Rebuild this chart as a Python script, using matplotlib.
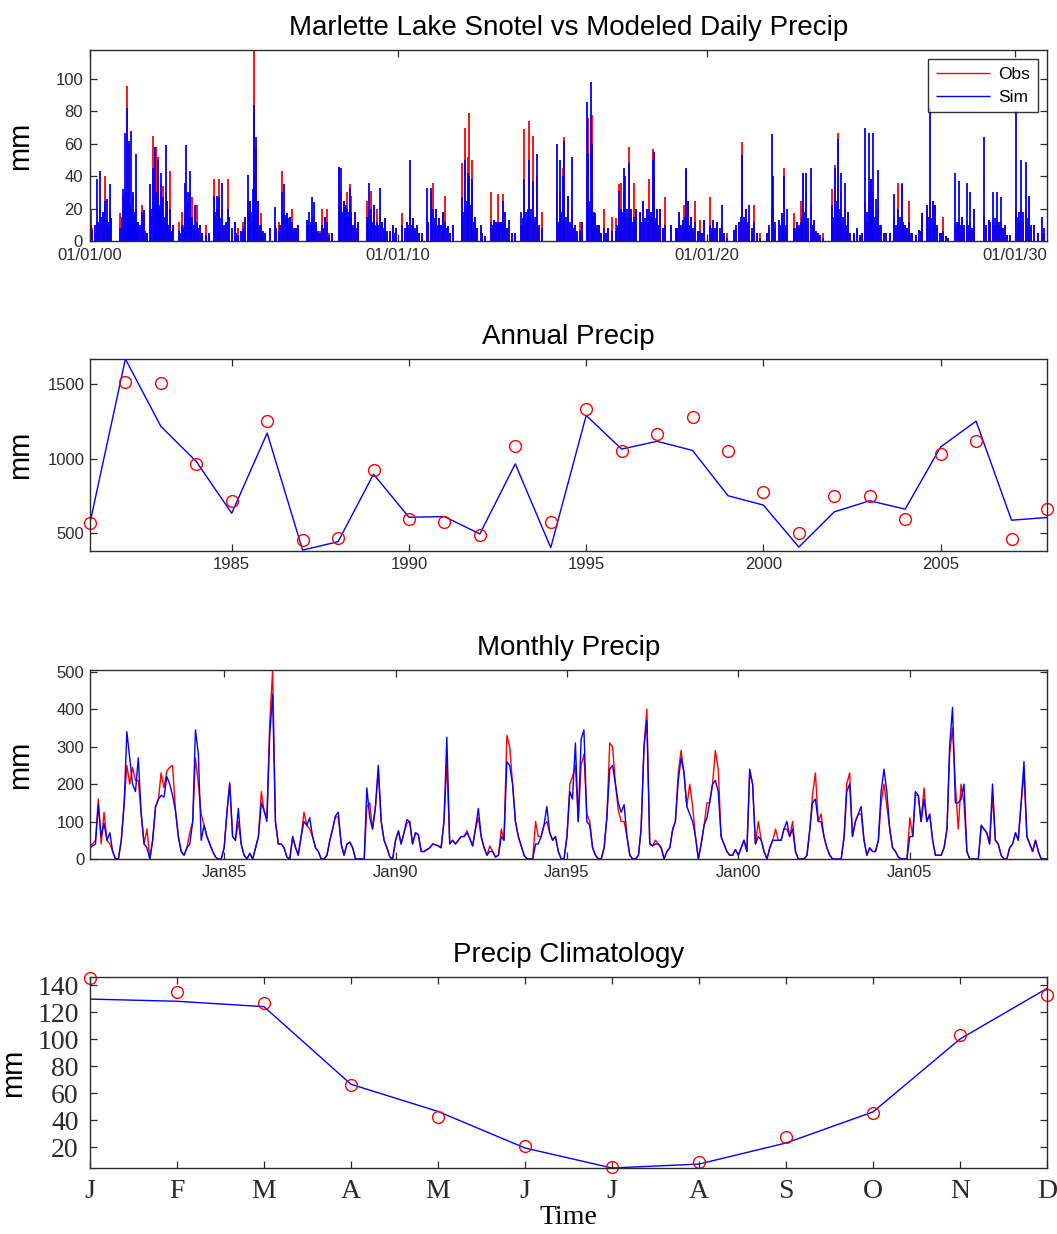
import matplotlib
matplotlib.use("Agg")
import matplotlib.pyplot as plt
import matplotlib.dates as mdates
import numpy as np
import pandas as pd

# ---- daily series: storm days (day of record), observed and simulated mm ----
storm_day = [8, 82, 122, 151, 184, 204, 232, 253, 359, 396, 416, 436, 457, 489, 510, 530, 551, 571,
             612, 636, 673, 714, 742, 767, 783, 803, 836, 865, 897, 918, 946, 979, 1052, 1093, 1121,
             1142, 1162, 1191, 1215, 1244, 1264, 1305, 1374, 1407, 1468, 1501, 1529, 1570, 1631, 1652,
             1713, 1754, 1815, 1835, 1868, 1896, 1929, 1949, 1966, 1990, 2031, 2080, 2129, 2190, 2235,
             2276, 2304, 2333, 2365, 2398, 2439, 2471, 2569, 2598, 2630, 2659, 2683, 2753, 2781, 2806,
             2863, 2957, 2977, 3005, 3030, 3050, 3079, 3099, 3140, 3181, 3283, 3311, 3336, 3364, 3397,
             3434, 3466, 3499, 3589, 3629, 3703, 3752, 3793, 3833, 3874, 3935, 3988, 4037, 4070, 4098,
             4139, 4180, 4208, 4241, 4302, 4404, 4445, 4478, 4494, 4527, 4567, 4629, 4682, 4751, 4792,
             4832, 4861, 4894, 4918, 4967, 5036, 5110, 5146, 5179, 5208, 5252, 5296, 5357, 5540, 5572,
             5601, 5621, 5662, 5710, 5743, 5804, 5836, 5885, 5905, 5934, 5954, 5987, 6027, 6088, 6141,
             6190, 6230, 6271, 6295, 6324, 6344, 6385, 6413, 6445, 6474, 6514, 6555, 6595, 6628, 6669,
             6689, 6717, 6758, 6819, 6880, 6941, 6981, 7022, 7042, 7062, 7083, 7123, 7172, 7233, 7278,
             7347, 7387, 7428, 7489, 7550, 7631, 7692, 7732, 7773, 7814, 7874, 7935, 8017, 8077, 8098,
             8159, 8199, 8228, 8260, 8341, 8382, 8423, 8455, 8483, 8544, 8585, 8626, 8686, 8788, 8828,
             8869, 8902, 8942, 8983, 9011, 9092, 9145, 9186, 9226, 9255, 9275, 9316, 9336, 9377, 9438,
             9478, 9527, 9580, 9620, 9661, 9701, 9742, 9823, 9864, 9917, 9953, 9986, 10014, 10067,
             10107, 10168, 10250, 10302, 10331, 10392, 10432, 10473, 10595, 10648, 10696, 10745, 10798,
             10838, 10899, 10976, 11029, 11094, 11122, 11183, 11285]
obs_daily = [20, 12, 20, 18, 40, 14, 20, 14, 17, 28, 30, 96, 60, 20, 28, 18, 20, 12,
             22, 19, 5, 20, 65, 52, 58, 52, 35, 34, 30, 25, 43, 10, 12, 18, 20,
             30, 25, 30, 27, 10, 22, 10, 10, 5, 38, 20, 38, 20, 38, 15,
             12, 8, 12, 15, 25, 25, 25, 118, 57, 25, 17, 5, 8, 10, 12,
             43, 20, 17, 15, 20, 8, 10, 13, 10, 15, 15, 12, 20, 15, 20,
             5, 46, 30, 25, 22, 30, 35, 28, 18, 12, 25, 20, 31, 22, 20,
             15, 12, 14, 10, 8, 17, 12, 20, 14, 10, 5, 15, 30, 36, 20,
             14, 18, 28, 9, 10, 48, 70, 52, 79, 50, 15, 10, 1, 30, 13,
             29, 12, 29, 18, 13, 5, 10, 69, 13, 74, 65, 40, 18, 30, 30,
             45, 64, 28, 20, 10, 12, 12, 40, 76, 60, 78, 17, 10, 20, 8,
             15, 14, 35, 36, 30, 20, 58, 20, 36, 20, 18, 25, 20, 38, 57,
             40, 20, 20, 27, 10, 8, 18, 13, 22, 44, 25, 15, 25, 13, 13,
             27, 8, 12, 10, 5, 7, 12, 61, 20, 10, 22, 5, 5, 20, 20,
             13, 17, 45, 10, 17, 12, 25, 42, 30, 22, 13, 5, 5, 32, 47,
             67, 30, 20, 18, 5, 8, 5, 25, 30, 38, 30, 15, 20, 10, 5,
             5, 15, 36, 36, 10, 25, 5, 7, 17, 20, 25, 25, 22, 5,
             15, 2, 10, 12, 15, 12, 12, 20, 15, 13, 12, 12, 12,
             10, 4, 20, 20, 20, 28, 10, 5]
sim_daily = [10, 38, 43, 18, 25, 26, 35, 14, 8, 32, 67, 82, 62, 68, 30, 18, 54, 12,
             18, 19, 5, 35, 45, 58, 30, 50, 42, 27, 59, 25, 20, 10, 6, 10, 36,
             59, 30, 43, 15, 22, 12, 10, 4, 5, 28, 28, 27, 36, 20, 15,
             12, 4, 8, 15, 41, 25, 32, 84, 64, 25, 10, 5, 8, 21, 6,
             30, 35, 17, 15, 12, 8, 10, 13, 18, 27, 24, 12, 10, 15, 12,
             5, 46, 45, 25, 22, 20, 33, 18, 18, 12, 15, 36, 20, 22, 12,
             33, 12, 14, 10, 8, 10, 12, 50, 14, 10, 5, 33, 33, 20, 20,
             14, 18, 12, 9, 10, 27, 50, 42, 40, 38, 15, 10, 3, 12, 13,
             12, 12, 25, 18, 13, 5, 18, 38, 13, 50, 37, 54, 8, 60, 50,
             40, 62, 28, 52, 10, 6, 12, 86, 54, 98, 60, 17, 10, 8, 8,
             6, 6, 31, 20, 45, 40, 48, 20, 15, 20, 18, 25, 20, 20, 50,
             55, 20, 20, 10, 10, 8, 18, 13, 10, 45, 25, 15, 12, 6, 13,
             10, 13, 12, 22, 2, 7, 12, 53, 20, 22, 12, 2, 5, 66, 40,
             13, 17, 40, 20, 8, 12, 12, 42, 42, 45, 13, 5, 2, 22, 45,
             63, 42, 36, 18, 5, 8, 5, 70, 67, 38, 67, 26, 44, 10, 5,
             5, 29, 20, 35, 10, 12, 5, 7, 17, 22, 82, 25, 22, 5,
             6, 2, 42, 37, 15, 36, 30, 20, 64, 13, 30, 30, 27,
             10, 4, 80, 50, 49, 28, 10, 15]

# light-rain days inside each wet season
light_day = [30, 55, 100, 140, 165, 215, 240,
             376, 405, 426, 447, 470, 500, 520, 540, 560, 590, 625, 650,
             725, 755, 790, 815, 825, 850, 880, 905, 930, 960,
             1070, 1105, 1130, 1152, 1175, 1200, 1230, 1280, 1330,
             1480, 1515, 1545, 1590, 1610, 1680, 1735, 1790,
             1880, 1912, 1940, 1958, 1978, 2010, 2055,
             2210, 2255, 2290, 2318, 2348, 2380, 2420, 2455,
             2585, 2615, 2645, 2670, 2700, 2730, 2765, 2830,
             2967, 2990, 3018, 3040, 3065, 3090, 3120, 3160,
             3297, 3325, 3350, 3380, 3415, 3450, 3480, 3520, 3560, 3610,
             3730, 3772, 3812, 3855, 3900,
             4010, 4055, 4085, 4120, 4160, 4195, 4225, 4270,
             4420, 4462, 4510, 4545, 4590, 4650,
             4770, 4812, 4845, 4878, 4940, 5000,
             5128, 5162, 5190, 5230, 5275, 5320,
             5555, 5585, 5640, 5685, 5725, 5770,
             5895, 5918, 5944, 5970, 6005, 6060, 6110,
             6250, 6285, 6310, 6360, 6398, 6430, 6460,
             6535, 6575, 6612, 6648, 6680, 6700, 6738, 6785,
             6960, 7000, 7052, 7072, 7100, 7150, 7200, 7255,
             7367, 7408, 7460, 7510,
             7660, 7712, 7752, 7795, 7845, 7900,
             8050, 8120, 8180, 8214, 8245,
             8360, 8400, 8440, 8470, 8510, 8565, 8605, 8650,
             8808, 8848, 8885, 8922, 8962, 9050, 9120,
             9205, 9240, 9265, 9295, 9355, 9410,
             9550, 9600, 9640, 9680, 9720, 9790, 9845,
             9935, 9970, 10000, 10040, 10090, 10140,
             10270, 10285, 10320, 10360, 10410, 10450,
             10615, 10670, 10720, 10770, 10820, 10870,
             10995, 11010, 11060, 11110, 11150, 11230, 11310]
light_obs = [8, 5, 10, 12, 10, 8, 6,
             10, 12, 20, 25, 15, 12, 10, 8, 10, 8, 6, 5,
             15, 20, 20, 20, 15, 15, 12, 10, 8, 5,
             5, 10, 12, 15, 12, 10, 8, 5, 5,
             15, 12, 10, 8, 10, 6, 5, 5,
             10, 12, 20, 25, 15, 8, 5,
             5, 8, 12, 14, 10, 10, 6, 5,
             8, 10, 10, 8, 5, 6, 8, 5,
             15, 15, 15, 12, 15, 10, 8, 6,
             8, 10, 10, 8, 8, 8, 6, 5, 6, 5,
             6, 8, 8, 6, 5,
             10, 12, 12, 8, 10, 8, 6, 5,
             15, 20, 20, 10, 8, 5,
             8, 10, 10, 12, 8, 5,
             10, 12, 15, 15, 12, 8,
             10, 15, 12, 10, 8, 5,
             15, 20, 25, 15, 8, 5, 5,
             8, 15, 15, 15, 12, 10, 8,
             10, 12, 10, 15, 15, 12, 10, 8,
             6, 8, 12, 12, 8, 6, 5, 5,
             5, 6, 6, 5,
             8, 12, 12, 10, 6, 5,
             8, 8, 8, 10, 8,
             6, 8, 12, 15, 12, 8, 5, 4,
             12, 20, 15, 12, 8, 4, 4,
             12, 15, 15, 10, 8, 5,
             8, 12, 10, 8, 5, 4, 6,
             10, 10, 10, 8, 5, 3,
             8, 8, 8, 8, 8, 6,
             8, 8, 10, 10, 8, 4,
             10, 12, 12, 10, 8, 5, 5]
light_sim = [6, 10, 12, 15, 14, 12, 10,
             15, 20, 25, 30, 22, 18, 14, 12, 12, 10, 8, 6,
             20, 25, 28, 22, 20, 18, 15, 12, 10, 6,
             5, 8, 15, 20, 15, 12, 10, 8, 5,
             18, 15, 14, 10, 12, 8, 5, 6,
             15, 18, 30, 40, 20, 10, 6,
             8, 10, 18, 16, 14, 12, 8, 6,
             10, 12, 12, 10, 6, 5, 8, 4,
             20, 18, 15, 15, 18, 14, 10, 8,
             10, 15, 12, 10, 10, 8, 8, 6, 6, 5,
             8, 10, 10, 8, 5,
             12, 15, 14, 10, 10, 10, 8, 5,
             18, 25, 22, 12, 8, 5,
             10, 12, 10, 12, 8, 5,
             14, 18, 20, 20, 15, 10,
             12, 18, 15, 12, 8, 6,
             20, 25, 30, 18, 10, 5, 5,
             10, 18, 18, 20, 15, 12, 10,
             12, 14, 12, 18, 20, 14, 10, 8,
             8, 10, 15, 14, 10, 8, 6, 5,
             8, 8, 8, 5,
             10, 15, 15, 12, 8, 5,
             10, 12, 10, 12, 10,
             8, 10, 15, 18, 14, 10, 6, 4,
             15, 25, 20, 15, 10, 5, 4,
             18, 20, 20, 15, 10, 5,
             10, 15, 12, 8, 5, 4, 6,
             15, 14, 12, 10, 5, 3,
             12, 12, 10, 10, 10, 8,
             10, 12, 14, 12, 8, 4,
             15, 18, 18, 14, 10, 5, 8]

daily_ticks = [0, 3653, 7306, 10959]
daily_tick_labels = ["01/01/00", "01/01/10", "01/01/20", "01/01/30"]

# ---- annual totals ----
years = list(range(1981, 2009))
obs_annual = [568, 1514, 1508, 964, 718, 1253, 456, 470, 926, 600, 577, 488, 1087, 578,
              1335, 1049, 1166, 1281, 1049, 778, 506, 751, 753, 600, 1034, 1121, 461, 663]
sim_annual = [570, 1668, 1217, 982, 635, 1172, 389, 445, 897, 609, 613, 497, 966, 405,
              1290, 1065, 1117, 1056, 753, 690, 409, 645, 719, 663, 1079, 1252, 589, 607]

# ---- monthly totals (one row per 12 months) ----
obs_monthly = [
    35, 40, 50, 160, 40, 125, 50, 40, 20, 0, 0, 50,
    150, 250, 200, 245, 210, 210, 120, 40, 80, 0, 50, 140,
    160, 230, 190, 235, 245, 250, 130, 60, 20, 10, 30, 70,
    100, 270, 200, 120, 90, 60, 40, 20, 5, 0, 0, 30,
    130, 205, 60, 50, 100, 40, 10, 0, 15, 0, 30, 60,
    180, 130, 110, 360, 505, 100, 40, 40, 30, 5, 0, 60,
    30, 10, 60, 125, 90, 80, 60, 30, 20, 0, 0, 10,
    50, 80, 115, 110, 40, 10, 40, 45, 30, 0, 0, 0,
    0, 140, 150, 80, 140, 235, 100, 50, 30, 5, 0, 50,
    75, 40, 70, 95, 100, 40, 70, 65, 20, 20, 25, 30,
    40, 38, 35, 30, 100, 260, 40, 50, 40, 50, 60, 60,
    75, 55, 35, 80, 110, 60, 30, 10, 35, 20, 5, 10,
    80, 50, 330, 300, 200, 100, 60, 35, 10, 0, 0, 0,
    100, 60, 60, 90, 100, 70, 50, 60, 20, 0, 0, 60,
    200, 220, 250, 100, 250, 280, 120, 100, 30, 10, 0, 0,
    30, 110, 310, 300, 200, 130, 100, 100, 60, 10, 0, 0,
    10, 80, 300, 400, 40, 35, 50, 40, 30, 0, 20, 30,
    80, 100, 230, 290, 230, 140, 200, 140, 60, 0, 40, 90,
    150, 150, 200, 290, 240, 60, 40, 20, 10, 10, 25, 10,
    30, 50, 20, 230, 200, 40, 100, 50, 20, 0, 30, 50,
    80, 50, 50, 80, 80, 60, 100, 20, 0, 0, 0, 10,
    80, 170, 230, 100, 120, 60, 30, 10, 0, 0, 0, 0,
    60, 200, 230, 60, 100, 120, 120, 50, 10, 30, 20, 20,
    50, 150, 200, 140, 80, 30, 20, 5, 0, 0, 0, 110,
    60, 170, 170, 100, 190, 100, 120, 50, 10, 10, 10, 30,
    80, 280, 350, 200, 80, 200, 150, 20, 0, 0, 0, 0,
    90, 80, 70, 40, 170, 50, 40, 10, 0, 0, 30, 40,
    70, 50, 150, 230, 60, 40, 20, 50, 20, 0, 0, 0,
]
sim_monthly = [
    30, 35, 40, 145, 60, 95, 50, 70, 20, 0, 0, 50,
    150, 340, 270, 200, 180, 270, 120, 40, 30, 0, 50, 140,
    160, 170, 165, 220, 200, 170, 130, 60, 20, 10, 30, 40,
    100, 345, 280, 50, 90, 60, 40, 20, 5, 0, 0, 30,
    130, 200, 60, 50, 135, 40, 10, 0, 15, 0, 30, 60,
    150, 130, 100, 330, 440, 100, 40, 40, 30, 5, 0, 60,
    30, 10, 60, 100, 90, 110, 60, 30, 20, 0, 0, 10,
    50, 80, 115, 125, 40, 10, 40, 45, 30, 0, 0, 0,
    0, 190, 110, 80, 140, 250, 100, 50, 30, 5, 0, 50,
    75, 40, 70, 105, 100, 40, 70, 65, 20, 20, 25, 30,
    40, 38, 35, 30, 100, 325, 40, 50, 40, 50, 60, 60,
    70, 55, 35, 80, 135, 60, 30, 10, 20, 20, 5, 10,
    60, 50, 260, 250, 200, 100, 60, 35, 10, 0, 0, 0,
    40, 40, 60, 90, 140, 70, 50, 60, 20, 0, 0, 60,
    180, 160, 310, 100, 320, 345, 100, 90, 30, 10, 0, 0,
    30, 110, 240, 250, 200, 150, 125, 145, 60, 10, 0, 0,
    10, 80, 300, 370, 40, 35, 40, 40, 30, 0, 20, 30,
    80, 100, 210, 270, 230, 140, 120, 100, 60, 0, 40, 90,
    110, 150, 200, 210, 180, 60, 40, 20, 10, 10, 25, 10,
    30, 50, 20, 240, 200, 40, 60, 50, 20, 0, 30, 50,
    50, 50, 50, 80, 100, 60, 80, 20, 0, 0, 0, 10,
    80, 150, 160, 100, 100, 60, 30, 10, 0, 0, 0, 0,
    60, 180, 200, 60, 100, 120, 140, 50, 10, 30, 20, 20,
    50, 180, 240, 180, 80, 30, 20, 5, 0, 0, 0, 60,
    60, 180, 170, 100, 160, 100, 120, 50, 10, 10, 10, 30,
    80, 300, 405, 150, 150, 160, 200, 20, 0, 0, 0, 0,
    90, 80, 70, 40, 200, 50, 40, 10, 0, 0, 30, 40,
    70, 50, 150, 260, 60, 40, 20, 50, 20, 0, 0, 0,
]
month_start = "1981-02-01"

# ---- climatology ----
month_letters = ["J", "F", "M", "A", "M", "J", "J", "A", "S", "O", "N", "D"]
obs_clim = [145.4, 134.5, 127, 66, 42, 21, 5.2, 9, 27.4, 45, 103, 133]
sim_clim = [129.6, 128, 124, 66.5, 46.4, 19.3, 4.5, 7.4, 23, 46, 100, 137.5]

SANS = "Liberation Sans"
SERIF = "Liberation Serif"
AX_COLOR = "#2b2b2b"


def matlab_axes(ax, family=SANS, tick_size=12, pad=4):
    for sp in ax.spines.values():
        sp.set_color(AX_COLOR)
        sp.set_linewidth(1.0)
    ax.tick_params(direction="in", top=True, right=True, length=5, width=0.9,
                   colors=AX_COLOR, labelsize=tick_size, pad=pad)
    for lab in ax.get_xticklabels() + ax.get_yticklabels():
        lab.set_family(family)


fig = plt.figure(figsize=(10.57, 12.34), dpi=100)
L, W = 0.0851, 0.9054

# daily
all_day = storm_day + light_day
all_obs = obs_daily + light_obs
all_sim = sim_daily + light_sim
ax1 = fig.add_axes([L, 0.8047, W, 0.1548])
ax1.vlines(all_day, 0, all_obs, color="#ff0000", lw=1.3, label="Obs")
ax1.vlines(all_day, 0, all_sim, color="#0000ff", lw=1.3, label="Sim")
ax1.set_xlim(0, 11340)
ax1.set_ylim(0, 118)
ax1.set_yticks([0, 20, 40, 60, 80, 100])
ax1.set_xticks(daily_ticks)
ax1.set_xticklabels(daily_tick_labels)
ax1.set_title("Marlette Lake Snotel vs Modeled Daily Precip", family=SANS, fontsize=20, pad=11)
ax1.set_ylabel("mm", family=SANS, fontsize=21)
ax1.yaxis.set_label_coords(-0.058, 0.5)
leg = ax1.legend(loc="upper right", prop={"family": SANS, "size": 12.5}, frameon=True,
                 fancybox=False, edgecolor="black", borderaxespad=0.5, handlelength=3.1,
                 handletextpad=0.5, borderpad=0.45, labelspacing=0.45)
leg.get_frame().set_linewidth(1.0)
for h in leg.legend_handles:
    h.set_linewidth(1.0)
matlab_axes(ax1, pad=5)

# annual
ax2 = fig.add_axes([L, 0.5535, W, 0.1556])
ax2.plot(years, sim_annual, color="#0000ff", lw=1.0)
ax2.plot(years, obs_annual, "o", mfc="none", mec="#ff0000", ms=8.5, mew=1.0, clip_on=False)
ax2.set_xlim(1981, 2008)
ax2.set_ylim(383, 1668)
ax2.set_xticks([1985, 1990, 1995, 2000, 2005])
ax2.set_yticks([500, 1000, 1500])
ax2.set_title("Annual Precip", family=SANS, fontsize=20, pad=11)
ax2.set_ylabel("mm", family=SANS, fontsize=21)
ax2.yaxis.set_label_coords(-0.058, 0.5)
matlab_axes(ax2)

# monthly
months = pd.date_range(month_start, periods=len(obs_monthly), freq="MS")
ax3 = fig.add_axes([L, 0.3039, W, 0.1532])
ax3.plot(months, obs_monthly, color="#ff0000", lw=1.0)
ax3.plot(months, sim_monthly, color="#0000ff", lw=1.0)
ax3.set_xlim(months[0], months[-1])
ax3.set_ylim(0, 505)
ax3.set_yticks([0, 100, 200, 300, 400, 500])
ax3.xaxis.set_major_locator(mdates.YearLocator(5, month=1, day=1))
ax3.xaxis.set_major_formatter(mdates.DateFormatter("%b%y"))
ax3.set_title("Monthly Precip", family=SANS, fontsize=20, pad=11)
ax3.set_ylabel("mm", family=SANS, fontsize=21)
ax3.yaxis.set_label_coords(-0.058, 0.5)
matlab_axes(ax3)

# climatology
mon = np.arange(1, 13)
ax4 = fig.add_axes([L, 0.0535, W, 0.1548])
ax4.plot(mon, sim_clim, color="#0000ff", lw=1.0)
ax4.plot(mon, obs_clim, "o", mfc="none", mec="#ff0000", ms=8.5, mew=1.0, clip_on=False)
ax4.set_xlim(1, 12)
ax4.set_ylim(4.5, 146)
ax4.set_xticks(mon)
ax4.set_xticklabels(month_letters)
ax4.set_yticks([20, 40, 60, 80, 100, 120, 140])
ax4.set_title("Precip Climatology", family=SANS, fontsize=20, pad=11)
ax4.set_ylabel("mm", family=SANS, fontsize=21)
ax4.yaxis.set_label_coords(-0.066, 0.5)
ax4.set_xlabel("Time", family=SERIF, fontsize=20, labelpad=1)
matlab_axes(ax4, family=SERIF, tick_size=20, pad=8)

fig.savefig("out.png", dpi=100)
